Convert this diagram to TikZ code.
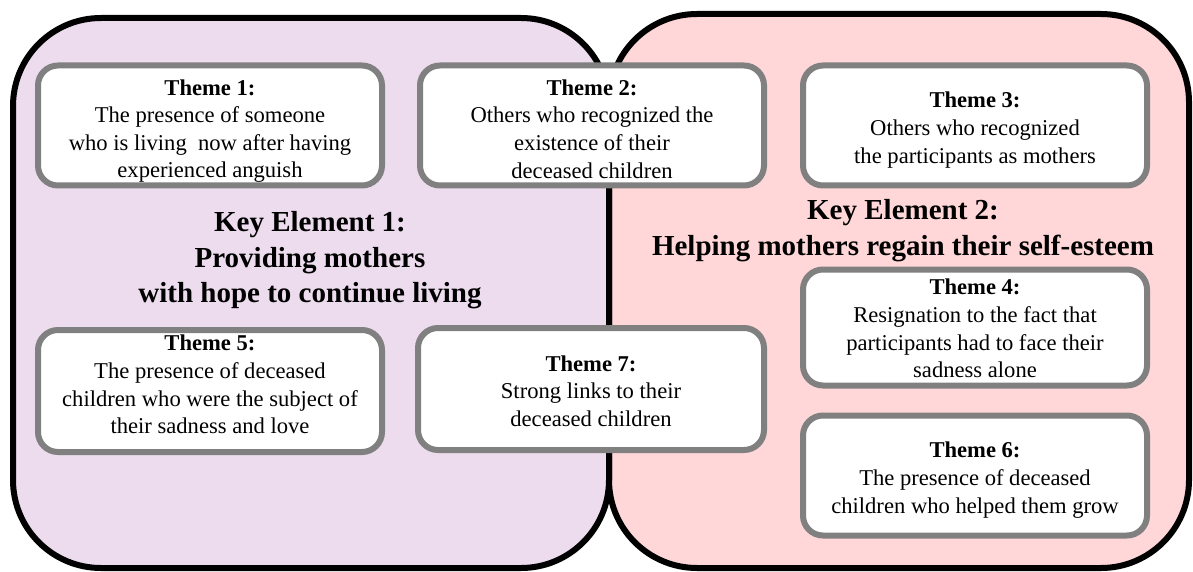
\documentclass[tikz,border=0pt]{standalone}
\usepackage{fontspec}
\setmainfont{Liberation Serif}
\definecolor{lav}{RGB}{237,220,238}
\definecolor{pnk}{RGB}{255,215,216}
\definecolor{gbord}{RGB}{128,128,128}
\begin{document}
\begin{tikzpicture}[x=1pt,y=-1pt,
  keybox/.style={draw=black, line width=6pt, rounded corners=88pt, inner sep=0pt},
  theme/.style={draw=gbord, line width=6pt, fill=white, rounded corners=20pt,
    minimum width=344pt, inner sep=0pt},
  themetext/.style={align=center, inner sep=0pt,
    font=\fontsize{22.6}{27.6}\selectfont},
  keytext/.style={align=center, inner sep=0pt, font=\bfseries\fontsize{29}{35.5}\selectfont}]
\useasboundingbox (0,0) rectangle (1193,572);
% key element areas
\node[keybox, fill=pnk, minimum width=580pt, minimum height=554pt] (area2) at (899,291) {};
\node[keybox, fill=lav, minimum width=596pt, minimum height=550pt] (area1) at (311,293) {};
% theme boxes
\node[theme, minimum height=120pt] (t1) at (210,125.5) {};
\node[theme, minimum height=120pt] (t2) at (592,125.5) {};
\node[theme, minimum height=120pt] (t3) at (975,125.5) {};
\node[theme, minimum height=116pt] (t4) at (975,327.5) {};
\node[theme, minimum height=122pt] (t5) at (210,391) {};
\node[theme, minimum width=346pt, minimum height=122pt] (t7) at (591,389) {};
\node[theme, minimum height=120pt] (t6) at (975,475.5) {};
% theme texts
\node[themetext] (t1x) at ([yshift=-5.5pt]t1.center)
  {\textbf{Theme 1:}\\The presence of someone\\who is living\ \ now after having\\experienced anguish};
\node[themetext] (t2x) at ([yshift=-3.5pt]t2.center)
  {\textbf{Theme 2:}\\Others who recognized the\\existence of their\\deceased children};
\node[themetext] (t3x) at ([yshift=-4.5pt]t3.center)
  {\textbf{Theme 3:}\\Others who recognized\\the participants as mothers};
\node[themetext] (t4x) at ([yshift=-1pt]t4.center)
  {\textbf{Theme 4:}\\Resignation to the fact that\\participants had to face their\\sadness alone};
\node[themetext] (t5x) at ([yshift=6.5pt]t5.center)
  {\textbf{Theme 5:}\\The presence of deceased\\children who were the subject of\\their sadness and love};
\node[themetext] (t7x) at ([yshift=-2pt]t7.center)
  {\textbf{Theme 7:}\\Strong links to their\\deceased children};
\node[themetext] (t6x) at ([yshift=-4.5pt]t6.center)
  {\textbf{Theme 6:}\\The presence of deceased\\children who helped them grow};
% key element titles
\node[keytext] (k1) at (310,260.5) {Key Element 1:\\Providing mothers\\with hope to continue living};
\node[keytext] (k2) at (903,230.5) {Key Element 2:\\Helping mothers regain their self-esteem};
\end{tikzpicture}
\end{document}
